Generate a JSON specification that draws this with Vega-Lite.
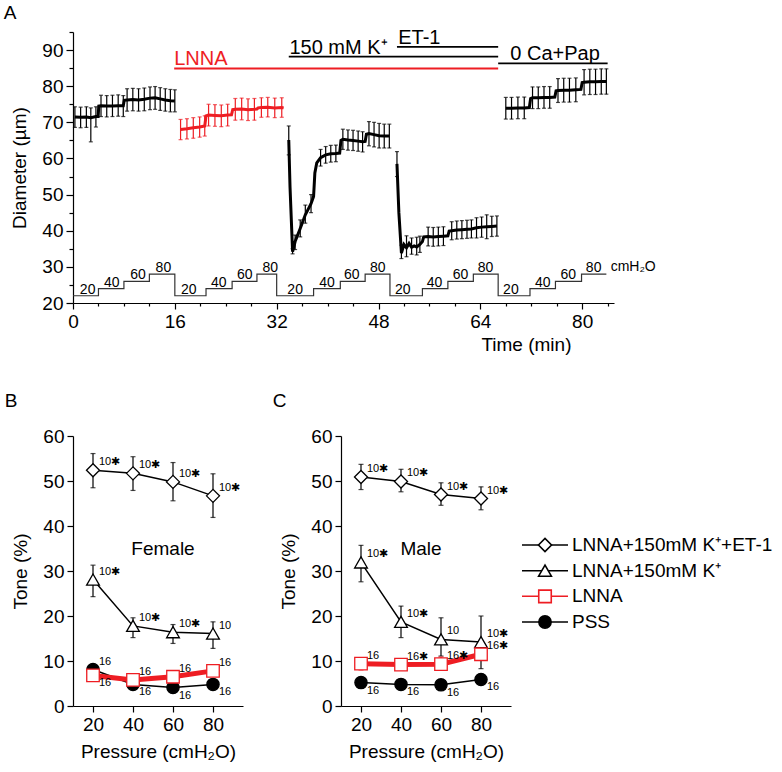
{
  "$schema": "https://vega.github.io/schema/vega-lite/v6.json",
  "padding": {"left": 3, "top": 4, "right": 4, "bottom": 4},
  "config": {
    "font": "Liberation Sans",
    "view": {"stroke": null},
    "axis": {"labelFontSize": 19, "titleFontSize": 19, "titleFontWeight": "normal", "labelColor": "#000", "titleColor": "#000", "domainColor": "#000", "tickColor": "#000", "domainWidth": 1.2, "tickWidth": 1.2, "tickSize": 6, "grid": false, "labelPadding": 3, "labelFlush": false, "labelOverlap": false},
    "axisY": {"titlePadding": 12},
    "axisX": {"titlePadding": 4},
    "title": {"fontSize": 19, "fontWeight": "normal", "anchor": "start", "frame": "bounds", "dx": -7, "color": "#000"},
    "text": {"color": "#000"}
  },
  "datasets": {
    "stairs": [
      {"t": 0, "lvl": 22}, {"t": 4, "lvl": 24}, {"t": 8, "lvl": 26}, {"t": 12, "lvl": 28},
      {"t": 16, "lvl": 22}, {"t": 20.9, "lvl": 24}, {"t": 25, "lvl": 26}, {"t": 28.9, "lvl": 28},
      {"t": 32, "lvl": 22}, {"t": 37.8, "lvl": 24}, {"t": 42, "lvl": 26}, {"t": 45.9, "lvl": 28},
      {"t": 49.8, "lvl": 22}, {"t": 54.9, "lvl": 24}, {"t": 58.9, "lvl": 26}, {"t": 62.9, "lvl": 28},
      {"t": 66.8, "lvl": 22}, {"t": 71.8, "lvl": 24}, {"t": 75.8, "lvl": 26}, {"t": 79.9, "lvl": 28},
      {"t": 83.8, "lvl": 28}
    ],
    "stairLabels": [
      {"t": 2.3, "lvl": 22, "lab": "20"}, {"t": 6.1, "lvl": 24, "lab": "40"}, {"t": 10.2, "lvl": 26, "lab": "60"}, {"t": 14.2, "lvl": 28, "lab": "80"},
      {"t": 18.2, "lvl": 22, "lab": "20"}, {"t": 22.9, "lvl": 24, "lab": "40"}, {"t": 27, "lvl": 26, "lab": "60"}, {"t": 31, "lvl": 28, "lab": "80"},
      {"t": 34.9, "lvl": 22, "lab": "20"}, {"t": 39.9, "lvl": 24, "lab": "40"}, {"t": 43.8, "lvl": 26, "lab": "60"}, {"t": 47.9, "lvl": 28, "lab": "80"},
      {"t": 51.8, "lvl": 22, "lab": "20"}, {"t": 56.8, "lvl": 24, "lab": "40"}, {"t": 60.9, "lvl": 26, "lab": "60"}, {"t": 64.8, "lvl": 28, "lab": "80"},
      {"t": 68.8, "lvl": 22, "lab": "20"}, {"t": 73.8, "lvl": 24, "lab": "40"}, {"t": 77.8, "lvl": 26, "lab": "60"}, {"t": 81.8, "lvl": 28, "lab": "80"}
    ],
    "treatments": [
      {"treat": "LNNA", "t0": 15.9, "t1": 66.8, "y": 84.9, "tl": 15.9, "label": "LNNA"},
      {"treat": "K", "t0": 33.9, "t1": 66.8, "y": 88.2, "tl": 34.0, "label": "150 mM K⁺"},
      {"treat": "ET1", "t0": 50.9, "t1": 66.8, "y": 90.9, "tl": 51.1, "label": "ET-1"},
      {"treat": "CaPap", "t0": 66.8, "t1": 84.0, "y": 86.3, "tl": 68.7, "label": "0 Ca+Pap"}
    ],
    "trace": [
      {"treat": "PSS", "t": 0.3, "d": 71.5, "lo": 68.6, "hi": 74.3},
      {"treat": "PSS", "t": 1.2, "d": 71.4, "lo": 68.5, "hi": 74.2},
      {"treat": "PSS", "t": 2.1, "d": 71.5, "lo": 68.6, "hi": 74.3},
      {"treat": "PSS", "t": 2.8, "d": 71.3, "lo": 64.6, "hi": 74.0},
      {"treat": "PSS", "t": 3.6, "d": 71.6, "lo": 68.7, "hi": 74.3},
      {"treat": "PSS", "t": 3.95, "d": 71.6},
      {"treat": "PSS", "t": 4.05, "d": 74.5},
      {"treat": "PSS", "t": 4.4, "d": 74.6, "lo": 71.6, "hi": 77.5},
      {"treat": "PSS", "t": 5.3, "d": 74.5, "lo": 71.5, "hi": 77.4},
      {"treat": "PSS", "t": 6.2, "d": 74.5, "lo": 71.6, "hi": 77.5},
      {"treat": "PSS", "t": 7.1, "d": 74.6, "lo": 71.7, "hi": 77.6},
      {"treat": "PSS", "t": 7.9, "d": 74.6, "lo": 71.6, "hi": 77.4},
      {"treat": "PSS", "t": 8.05, "d": 76.1},
      {"treat": "PSS", "t": 8.5, "d": 76.2, "lo": 73.1, "hi": 79.3},
      {"treat": "PSS", "t": 9.4, "d": 76.3, "lo": 73.2, "hi": 79.4},
      {"treat": "PSS", "t": 10.3, "d": 76.2, "lo": 73.1, "hi": 79.3},
      {"treat": "PSS", "t": 11.2, "d": 76.4, "lo": 73.2, "hi": 79.5},
      {"treat": "PSS", "t": 12.1, "d": 76.7, "lo": 73.5, "hi": 79.8},
      {"treat": "PSS", "t": 12.9, "d": 76.8, "lo": 73.6, "hi": 79.9},
      {"treat": "PSS", "t": 13.7, "d": 76.5, "lo": 73.3, "hi": 79.6},
      {"treat": "PSS", "t": 14.5, "d": 76.2, "lo": 73.1, "hi": 79.3},
      {"treat": "PSS", "t": 15.3, "d": 76.0, "lo": 72.9, "hi": 79.1},
      {"treat": "PSS", "t": 16.0, "d": 75.9, "lo": 72.9, "hi": 79.0},
      {"treat": "LNNA", "t": 16.9, "d": 68.0, "lo": 65.2, "hi": 70.8},
      {"treat": "LNNA", "t": 17.9, "d": 68.2, "lo": 65.4, "hi": 71.0},
      {"treat": "LNNA", "t": 18.9, "d": 68.5, "lo": 65.6, "hi": 71.3},
      {"treat": "LNNA", "t": 19.9, "d": 68.7, "lo": 65.9, "hi": 71.5},
      {"treat": "LNNA", "t": 20.7, "d": 69.0, "lo": 66.2, "hi": 71.8},
      {"treat": "LNNA", "t": 20.9, "d": 71.8},
      {"treat": "LNNA", "t": 21.3, "d": 72.0, "lo": 69.0, "hi": 75.0},
      {"treat": "LNNA", "t": 22.3, "d": 71.9, "lo": 68.9, "hi": 74.9},
      {"treat": "LNNA", "t": 23.3, "d": 71.8, "lo": 68.8, "hi": 74.8},
      {"treat": "LNNA", "t": 24.3, "d": 72.0, "lo": 69.0, "hi": 75.0},
      {"treat": "LNNA", "t": 24.9, "d": 72.1},
      {"treat": "LNNA", "t": 25.1, "d": 73.5},
      {"treat": "LNNA", "t": 25.5, "d": 73.6, "lo": 70.6, "hi": 76.6},
      {"treat": "LNNA", "t": 26.5, "d": 73.7, "lo": 70.7, "hi": 76.7},
      {"treat": "LNNA", "t": 27.5, "d": 73.5, "lo": 70.5, "hi": 76.5},
      {"treat": "LNNA", "t": 28.5, "d": 73.6, "lo": 70.6, "hi": 76.6},
      {"treat": "LNNA", "t": 28.9, "d": 73.7},
      {"treat": "LNNA", "t": 29.1, "d": 74.0},
      {"treat": "LNNA", "t": 29.6, "d": 74.1, "lo": 71.4, "hi": 76.8},
      {"treat": "LNNA", "t": 30.6, "d": 74.2, "lo": 71.5, "hi": 76.9},
      {"treat": "LNNA", "t": 31.7, "d": 74.0, "lo": 71.3, "hi": 76.7},
      {"treat": "LNNA", "t": 32.8, "d": 74.1, "lo": 71.4, "hi": 76.8},
      {"treat": "LNNA", "t": 33.1, "d": 74.0},
      {"treat": "K", "t": 33.9, "d": 65.1, "lo": 61.0, "hi": 69.0},
      {"treat": "K", "t": 34.1, "d": 52.0},
      {"treat": "K", "t": 34.5, "d": 34.2, "lo": 33.6, "hi": 35.0},
      {"treat": "K", "t": 34.9, "d": 37.0, "lo": 34.8, "hi": 38.8},
      {"treat": "K", "t": 35.7, "d": 40.6, "lo": 38.3, "hi": 43.0},
      {"treat": "K", "t": 36.5, "d": 44.4, "lo": 42.1, "hi": 47.1},
      {"treat": "K", "t": 37.4, "d": 47.5, "lo": 45.0, "hi": 50.0},
      {"treat": "K", "t": 37.8, "d": 49.5},
      {"treat": "K", "t": 38.0, "d": 56.0},
      {"treat": "K", "t": 38.3, "d": 58.8},
      {"treat": "K", "t": 38.9, "d": 60.2, "lo": 57.9, "hi": 62.5},
      {"treat": "K", "t": 39.7, "d": 61.0, "lo": 58.7, "hi": 63.3},
      {"treat": "K", "t": 40.5, "d": 61.3, "lo": 59.0, "hi": 63.6},
      {"treat": "K", "t": 41.3, "d": 61.4, "lo": 59.1, "hi": 63.7},
      {"treat": "K", "t": 41.9, "d": 61.5},
      {"treat": "K", "t": 42.1, "d": 65.0},
      {"treat": "K", "t": 42.4, "d": 65.3, "lo": 62.5, "hi": 68.1},
      {"treat": "K", "t": 43.2, "d": 65.1, "lo": 62.3, "hi": 67.9},
      {"treat": "K", "t": 44.0, "d": 65.0, "lo": 62.2, "hi": 67.8},
      {"treat": "K", "t": 44.8, "d": 64.8, "lo": 62.0, "hi": 67.6},
      {"treat": "K", "t": 45.5, "d": 64.6, "lo": 61.8, "hi": 67.4},
      {"treat": "K", "t": 45.9, "d": 64.7},
      {"treat": "K", "t": 46.1, "d": 66.7},
      {"treat": "K", "t": 46.5, "d": 66.9, "lo": 63.5, "hi": 70.2},
      {"treat": "K", "t": 47.3, "d": 66.6, "lo": 63.2, "hi": 70.0},
      {"treat": "K", "t": 48.1, "d": 66.3, "lo": 62.9, "hi": 69.7},
      {"treat": "K", "t": 48.9, "d": 66.2, "lo": 62.9, "hi": 69.5},
      {"treat": "K", "t": 49.7, "d": 66.2, "lo": 62.9, "hi": 69.5},
      {"treat": "ET1", "t": 50.9, "d": 58.5, "lo": 55.0, "hi": 61.9},
      {"treat": "ET1", "t": 51.2, "d": 45.0},
      {"treat": "ET1", "t": 51.6, "d": 33.8, "lo": 32.3, "hi": 36.0},
      {"treat": "ET1", "t": 52.0, "d": 36.2},
      {"treat": "ET1", "t": 52.4, "d": 35.3, "lo": 32.8, "hi": 38.6},
      {"treat": "ET1", "t": 52.8, "d": 36.5},
      {"treat": "ET1", "t": 53.2, "d": 35.4, "lo": 33.5, "hi": 38.0},
      {"treat": "ET1", "t": 53.6, "d": 35.8},
      {"treat": "ET1", "t": 54.0, "d": 35.5, "lo": 33.3, "hi": 38.2},
      {"treat": "ET1", "t": 54.5, "d": 36.2, "lo": 34.0, "hi": 38.5},
      {"treat": "ET1", "t": 54.9, "d": 37.0},
      {"treat": "ET1", "t": 55.1, "d": 38.3},
      {"treat": "ET1", "t": 55.8, "d": 38.4, "lo": 35.8, "hi": 41.0},
      {"treat": "ET1", "t": 56.6, "d": 38.3, "lo": 35.7, "hi": 40.9},
      {"treat": "ET1", "t": 57.4, "d": 38.4, "lo": 35.8, "hi": 41.0},
      {"treat": "ET1", "t": 58.2, "d": 38.5, "lo": 35.9, "hi": 41.1},
      {"treat": "ET1", "t": 58.9, "d": 38.6},
      {"treat": "ET1", "t": 59.1, "d": 39.9},
      {"treat": "ET1", "t": 59.5, "d": 40.0, "lo": 37.5, "hi": 42.5},
      {"treat": "ET1", "t": 60.3, "d": 40.2, "lo": 37.7, "hi": 42.7},
      {"treat": "ET1", "t": 61.1, "d": 40.3, "lo": 37.8, "hi": 42.8},
      {"treat": "ET1", "t": 61.9, "d": 40.4, "lo": 37.9, "hi": 42.9},
      {"treat": "ET1", "t": 62.6, "d": 40.5, "lo": 38.0, "hi": 43.0},
      {"treat": "ET1", "t": 63.4, "d": 40.8, "lo": 38.0, "hi": 43.6},
      {"treat": "ET1", "t": 64.2, "d": 41.0, "lo": 38.2, "hi": 43.8},
      {"treat": "ET1", "t": 65.0, "d": 41.1, "lo": 37.8, "hi": 44.4},
      {"treat": "ET1", "t": 65.8, "d": 41.2, "lo": 38.4, "hi": 44.0},
      {"treat": "ET1", "t": 66.6, "d": 41.3, "lo": 38.5, "hi": 44.1},
      {"treat": "CaPap", "t": 68.0, "d": 73.9, "lo": 70.9, "hi": 76.9},
      {"treat": "CaPap", "t": 68.9, "d": 73.9, "lo": 70.9, "hi": 76.9},
      {"treat": "CaPap", "t": 69.9, "d": 74.0, "lo": 71.0, "hi": 77.0},
      {"treat": "CaPap", "t": 70.9, "d": 74.0, "lo": 71.0, "hi": 77.0},
      {"treat": "CaPap", "t": 71.7, "d": 74.1},
      {"treat": "CaPap", "t": 71.9, "d": 76.6},
      {"treat": "CaPap", "t": 72.2, "d": 76.8, "lo": 73.8, "hi": 79.8},
      {"treat": "CaPap", "t": 73.1, "d": 76.8, "lo": 73.8, "hi": 79.8},
      {"treat": "CaPap", "t": 74.0, "d": 76.9, "lo": 73.9, "hi": 79.9},
      {"treat": "CaPap", "t": 74.9, "d": 76.9, "lo": 73.9, "hi": 79.9},
      {"treat": "CaPap", "t": 75.7, "d": 77.0},
      {"treat": "CaPap", "t": 75.9, "d": 78.7},
      {"treat": "CaPap", "t": 76.2, "d": 78.8, "lo": 75.5, "hi": 82.1},
      {"treat": "CaPap", "t": 77.1, "d": 78.9, "lo": 75.6, "hi": 82.2},
      {"treat": "CaPap", "t": 78.0, "d": 78.9, "lo": 75.6, "hi": 82.2},
      {"treat": "CaPap", "t": 79.0, "d": 79.0, "lo": 75.7, "hi": 82.3},
      {"treat": "CaPap", "t": 79.8, "d": 79.1},
      {"treat": "CaPap", "t": 80.0, "d": 81.0},
      {"treat": "CaPap", "t": 80.3, "d": 81.1, "lo": 77.6, "hi": 84.6},
      {"treat": "CaPap", "t": 81.2, "d": 81.2, "lo": 77.7, "hi": 84.7},
      {"treat": "CaPap", "t": 82.1, "d": 81.2, "lo": 77.7, "hi": 84.7},
      {"treat": "CaPap", "t": 83.0, "d": 81.3, "lo": 77.8, "hi": 84.8},
      {"treat": "CaPap", "t": 83.8, "d": 81.3, "lo": 77.8, "hi": 84.8}
    ],
    "tone": [
      {"sex": "Female", "series": "ET1", "p": 20, "tone": 52.4, "lo": 48.5, "hi": 56.1, "n": "10✱", "pos": "above"},
      {"sex": "Female", "series": "ET1", "p": 40, "tone": 51.7, "lo": 47.9, "hi": 55.4, "n": "10✱", "pos": "above"},
      {"sex": "Female", "series": "ET1", "p": 60, "tone": 49.8, "lo": 45.6, "hi": 54.1, "n": "10✱", "pos": "above"},
      {"sex": "Female", "series": "ET1", "p": 80, "tone": 46.7, "lo": 41.9, "hi": 51.6, "n": "10✱", "pos": "above"},
      {"sex": "Female", "series": "K", "p": 20, "tone": 28.1, "lo": 24.3, "hi": 31.3, "n": "10✱", "pos": "above"},
      {"sex": "Female", "series": "K", "p": 40, "tone": 17.8, "lo": 15.2, "hi": 19.6, "n": "10✱", "pos": "above"},
      {"sex": "Female", "series": "K", "p": 60, "tone": 16.4, "lo": 13.9, "hi": 18.1, "n": "10✱", "pos": "above"},
      {"sex": "Female", "series": "K", "p": 80, "tone": 16.1, "lo": 12.8, "hi": 18.7, "n": "10", "pos": "above"},
      {"sex": "Female", "series": "PSS", "p": 20, "tone": 8.1, "lo": 7.4, "hi": 8.8, "n": "16", "pos": "above"},
      {"sex": "Female", "series": "PSS", "p": 40, "tone": 4.8, "lo": 4.2, "hi": 5.4, "n": "16", "pos": "below"},
      {"sex": "Female", "series": "PSS", "p": 60, "tone": 4.1, "lo": 3.5, "hi": 4.7, "n": "16", "pos": "below"},
      {"sex": "Female", "series": "PSS", "p": 80, "tone": 4.8, "lo": 4.2, "hi": 5.4, "n": "16", "pos": "below"},
      {"sex": "Female", "series": "LNNA", "p": 20, "tone": 6.8, "lo": 6.0, "hi": 7.6, "n": "16", "pos": "below"},
      {"sex": "Female", "series": "LNNA", "p": 40, "tone": 5.8, "lo": 5.1, "hi": 6.5, "n": "16", "pos": "above"},
      {"sex": "Female", "series": "LNNA", "p": 60, "tone": 6.5, "lo": 5.8, "hi": 7.2, "n": "16", "pos": "above"},
      {"sex": "Female", "series": "LNNA", "p": 80, "tone": 7.8, "lo": 7.0, "hi": 8.6, "n": "16", "pos": "above"},
      {"sex": "Male", "series": "ET1", "p": 20, "tone": 50.9, "lo": 48.1, "hi": 53.7, "n": "10✱", "pos": "above"},
      {"sex": "Male", "series": "ET1", "p": 40, "tone": 49.9, "lo": 47.6, "hi": 52.6, "n": "10✱", "pos": "above"},
      {"sex": "Male", "series": "ET1", "p": 60, "tone": 47.0, "lo": 44.6, "hi": 49.6, "n": "10✱", "pos": "above"},
      {"sex": "Male", "series": "ET1", "p": 80, "tone": 46.1, "lo": 43.6, "hi": 48.7, "n": "10✱", "pos": "above"},
      {"sex": "Male", "series": "K", "p": 20, "tone": 31.9, "lo": 27.6, "hi": 35.7, "n": "10✱", "pos": "above"},
      {"sex": "Male", "series": "K", "p": 40, "tone": 18.7, "lo": 15.2, "hi": 22.2, "n": "10✱", "pos": "above"},
      {"sex": "Male", "series": "K", "p": 60, "tone": 14.8, "lo": 11.1, "hi": 19.6, "n": "10", "pos": "above"},
      {"sex": "Male", "series": "K", "p": 80, "tone": 14.2, "lo": 8.3, "hi": 20.0, "n": "10✱", "pos": "above"},
      {"sex": "Male", "series": "PSS", "p": 20, "tone": 5.2, "lo": 4.6, "hi": 5.8, "n": "16", "pos": "below"},
      {"sex": "Male", "series": "PSS", "p": 40, "tone": 4.8, "lo": 4.2, "hi": 5.4, "n": "16", "pos": "below"},
      {"sex": "Male", "series": "PSS", "p": 60, "tone": 4.7, "lo": 4.1, "hi": 5.3, "n": "16", "pos": "below"},
      {"sex": "Male", "series": "PSS", "p": 80, "tone": 5.9, "lo": 5.2, "hi": 6.6, "n": "16", "pos": "below"},
      {"sex": "Male", "series": "LNNA", "p": 20, "tone": 9.4, "lo": 8.0, "hi": 10.7, "n": "16", "pos": "above"},
      {"sex": "Male", "series": "LNNA", "p": 40, "tone": 9.2, "lo": 8.0, "hi": 10.5, "n": "16✱", "pos": "above"},
      {"sex": "Male", "series": "LNNA", "p": 60, "tone": 9.3, "lo": 8.0, "hi": 10.9, "n": "16✱", "pos": "above"},
      {"sex": "Male", "series": "LNNA", "p": 80, "tone": 11.5, "lo": 10.3, "hi": 12.7, "n": "16✱", "pos": "above"}
    ],
    "legendRows": [
      {"series": "ET1", "label": "LNNA+150mM K⁺+ET-1"},
      {"series": "K", "label": "LNNA+150mM K⁺"},
      {"series": "LNNA", "label": "LNNA"},
      {"series": "PSS", "label": "PSS"}
    ]
  },
  "spacing": 38,
  "vconcat": [
    {
      "width": 541,
      "height": 271,
      "title": {"text": "A", "offset": 0},
      "layer": [
        {
          "data": {"name": "stairs"},
          "mark": {"type": "line", "interpolate": "step-after", "color": "#333", "strokeWidth": 1.2},
          "encoding": {
            "x": {"field": "t", "type": "quantitative", "scale": {"domain": [0, 85], "nice": false, "zero": false}, "axis": {"title": "Time (min)", "titleX": 498, "titleAlign": "right", "labelOverlap": false, "values": [0,4,8,12,16,20,24,28,32,36,40,44,48,52,56,60,64,68,72,76,80,84], "labelExpr": "datum.value % 16 === 0 ? datum.label : ''", "tickSize": {"condition": {"test": "datum.value % 16 === 0", "value": 6}, "value": 3}}},
            "y": {"field": "lvl", "type": "quantitative", "scale": {"domain": [20, 95], "nice": false, "zero": false}, "axis": {"title": "Diameter (µm)", "labelOverlap": false, "values": [20,25,30,35,40,45,50,55,60,65,70,75,80,85,90,95], "labelExpr": "datum.value % 10 === 0 ? datum.label : ''", "tickSize": {"condition": {"test": "datum.value % 10 === 0", "value": 7}, "value": 4}}}
          }
        },
        {
          "data": {"name": "stairLabels"},
          "mark": {"type": "text", "fontSize": 14, "baseline": "alphabetic", "dy": -2, "color": "#000"},
          "encoding": {
            "x": {"field": "t", "type": "quantitative", "axis": {"title": "Time (min)", "titleX": 498, "titleAlign": "right", "labelOverlap": false, "values": [0,4,8,12,16,20,24,28,32,36,40,44,48,52,56,60,64,68,72,76,80,84], "labelExpr": "datum.value % 16 === 0 ? datum.label : ''", "tickSize": {"condition": {"test": "datum.value % 16 === 0", "value": 6}, "value": 3}}},
            "y": {"field": "lvl", "type": "quantitative", "axis": {"title": "Diameter (µm)", "labelOverlap": false, "values": [20,25,30,35,40,45,50,55,60,65,70,75,80,85,90,95], "labelExpr": "datum.value % 10 === 0 ? datum.label : ''", "tickSize": {"condition": {"test": "datum.value % 10 === 0", "value": 7}, "value": 4}}},
            "text": {"field": "lab"}
          }
        },
        {
          "data": {"values": [{"u": "cmH₂O"}]},
          "mark": {"type": "text", "fontSize": 14, "baseline": "alphabetic", "align": "left", "dy": -3, "dx": 3, "color": "#000"},
          "encoding": {
            "x": {"datum": 84.0, "type": "quantitative", "axis": {"title": "Time (min)", "titleX": 498, "titleAlign": "right", "labelOverlap": false, "values": [0,4,8,12,16,20,24,28,32,36,40,44,48,52,56,60,64,68,72,76,80,84], "labelExpr": "datum.value % 16 === 0 ? datum.label : ''", "tickSize": {"condition": {"test": "datum.value % 16 === 0", "value": 6}, "value": 3}}},
            "y": {"datum": 28, "type": "quantitative", "axis": {"title": "Diameter (µm)", "labelOverlap": false, "values": [20,25,30,35,40,45,50,55,60,65,70,75,80,85,90,95], "labelExpr": "datum.value % 10 === 0 ? datum.label : ''", "tickSize": {"condition": {"test": "datum.value % 10 === 0", "value": 7}, "value": 4}}},
            "text": {"field": "u"}
          }
        },
        {
          "data": {"name": "treatments"},
          "mark": {"type": "rule", "strokeWidth": 1.8},
          "encoding": {
            "x": {"field": "t0", "type": "quantitative", "axis": {"title": "Time (min)", "titleX": 498, "titleAlign": "right", "labelOverlap": false, "values": [0,4,8,12,16,20,24,28,32,36,40,44,48,52,56,60,64,68,72,76,80,84], "labelExpr": "datum.value % 16 === 0 ? datum.label : ''", "tickSize": {"condition": {"test": "datum.value % 16 === 0", "value": 6}, "value": 3}}},
            "x2": {"field": "t1"},
            "y": {"field": "y", "type": "quantitative", "axis": {"title": "Diameter (µm)", "labelOverlap": false, "values": [20,25,30,35,40,45,50,55,60,65,70,75,80,85,90,95], "labelExpr": "datum.value % 10 === 0 ? datum.label : ''", "tickSize": {"condition": {"test": "datum.value % 10 === 0", "value": 7}, "value": 4}}},
            "color": {"field": "treat", "type": "nominal", "scale": {"domain": ["ET1","K","LNNA","PSS","CaPap"], "range": ["#000","#000","#ee1d23","#000","#000"]}, "legend": null}
          }
        },
        {
          "data": {"name": "treatments"},
          "mark": {"type": "text", "fontSize": 20, "align": "left", "baseline": "alphabetic", "dy": -3},
          "encoding": {
            "x": {"field": "tl", "type": "quantitative", "axis": {"title": "Time (min)", "titleX": 498, "titleAlign": "right", "labelOverlap": false, "values": [0,4,8,12,16,20,24,28,32,36,40,44,48,52,56,60,64,68,72,76,80,84], "labelExpr": "datum.value % 16 === 0 ? datum.label : ''", "tickSize": {"condition": {"test": "datum.value % 16 === 0", "value": 6}, "value": 3}}},
            "y": {"field": "y", "type": "quantitative", "axis": {"title": "Diameter (µm)", "labelOverlap": false, "values": [20,25,30,35,40,45,50,55,60,65,70,75,80,85,90,95], "labelExpr": "datum.value % 10 === 0 ? datum.label : ''", "tickSize": {"condition": {"test": "datum.value % 10 === 0", "value": 7}, "value": 4}}},
            "text": {"field": "label"},
            "color": {"field": "treat", "type": "nominal", "scale": {"domain": ["ET1","K","LNNA","PSS","CaPap"], "range": ["#000","#000","#ee1d23","#000","#000"]}, "legend": null}
          }
        },
        {
          "data": {"name": "trace"},
          "transform": [{"filter": "isValid(datum.lo)"}],
          "mark": {"type": "rule", "strokeWidth": 1.2},
          "encoding": {
            "x": {"field": "t", "type": "quantitative", "axis": {"title": "Time (min)", "titleX": 498, "titleAlign": "right", "labelOverlap": false, "values": [0,4,8,12,16,20,24,28,32,36,40,44,48,52,56,60,64,68,72,76,80,84], "labelExpr": "datum.value % 16 === 0 ? datum.label : ''", "tickSize": {"condition": {"test": "datum.value % 16 === 0", "value": 6}, "value": 3}}},
            "y": {"field": "lo", "type": "quantitative", "axis": {"title": "Diameter (µm)", "labelOverlap": false, "values": [20,25,30,35,40,45,50,55,60,65,70,75,80,85,90,95], "labelExpr": "datum.value % 10 === 0 ? datum.label : ''", "tickSize": {"condition": {"test": "datum.value % 10 === 0", "value": 7}, "value": 4}}},
            "y2": {"field": "hi"},
            "color": {"field": "treat", "type": "nominal", "scale": {"domain": ["ET1","K","LNNA","PSS","CaPap"], "range": ["#000","#000","#ee1d23","#000","#000"]}, "legend": null}
          }
        },
        {
          "data": {"name": "trace"},
          "transform": [{"filter": "isValid(datum.lo)"}],
          "mark": {"type": "tick", "orient": "horizontal", "size": 4, "thickness": 1.2},
          "encoding": {
            "x": {"field": "t", "type": "quantitative", "axis": {"title": "Time (min)", "titleX": 498, "titleAlign": "right", "labelOverlap": false, "values": [0,4,8,12,16,20,24,28,32,36,40,44,48,52,56,60,64,68,72,76,80,84], "labelExpr": "datum.value % 16 === 0 ? datum.label : ''", "tickSize": {"condition": {"test": "datum.value % 16 === 0", "value": 6}, "value": 3}}},
            "y": {"field": "lo", "type": "quantitative", "axis": {"title": "Diameter (µm)", "labelOverlap": false, "values": [20,25,30,35,40,45,50,55,60,65,70,75,80,85,90,95], "labelExpr": "datum.value % 10 === 0 ? datum.label : ''", "tickSize": {"condition": {"test": "datum.value % 10 === 0", "value": 7}, "value": 4}}},
            "color": {"field": "treat", "type": "nominal", "scale": {"domain": ["ET1","K","LNNA","PSS","CaPap"], "range": ["#000","#000","#ee1d23","#000","#000"]}, "legend": null}
          }
        },
        {
          "data": {"name": "trace"},
          "transform": [{"filter": "isValid(datum.lo)"}],
          "mark": {"type": "tick", "orient": "horizontal", "size": 4, "thickness": 1.2},
          "encoding": {
            "x": {"field": "t", "type": "quantitative", "axis": {"title": "Time (min)", "titleX": 498, "titleAlign": "right", "labelOverlap": false, "values": [0,4,8,12,16,20,24,28,32,36,40,44,48,52,56,60,64,68,72,76,80,84], "labelExpr": "datum.value % 16 === 0 ? datum.label : ''", "tickSize": {"condition": {"test": "datum.value % 16 === 0", "value": 6}, "value": 3}}},
            "y": {"field": "hi", "type": "quantitative", "axis": {"title": "Diameter (µm)", "labelOverlap": false, "values": [20,25,30,35,40,45,50,55,60,65,70,75,80,85,90,95], "labelExpr": "datum.value % 10 === 0 ? datum.label : ''", "tickSize": {"condition": {"test": "datum.value % 10 === 0", "value": 7}, "value": 4}}},
            "color": {"field": "treat", "type": "nominal", "scale": {"domain": ["ET1","K","LNNA","PSS","CaPap"], "range": ["#000","#000","#ee1d23","#000","#000"]}, "legend": null}
          }
        },
        {
          "data": {"name": "trace"},
          "mark": {"type": "line", "strokeWidth": 3},
          "encoding": {
            "x": {"field": "t", "type": "quantitative", "axis": {"title": "Time (min)", "titleX": 498, "titleAlign": "right", "labelOverlap": false, "values": [0,4,8,12,16,20,24,28,32,36,40,44,48,52,56,60,64,68,72,76,80,84], "labelExpr": "datum.value % 16 === 0 ? datum.label : ''", "tickSize": {"condition": {"test": "datum.value % 16 === 0", "value": 6}, "value": 3}}},
            "y": {"field": "d", "type": "quantitative", "axis": {"title": "Diameter (µm)", "labelOverlap": false, "values": [20,25,30,35,40,45,50,55,60,65,70,75,80,85,90,95], "labelExpr": "datum.value % 10 === 0 ? datum.label : ''", "tickSize": {"condition": {"test": "datum.value % 10 === 0", "value": 7}, "value": 4}}},
            "color": {"field": "treat", "type": "nominal", "scale": {"domain": ["ET1","K","LNNA","PSS","CaPap"], "range": ["#000","#000","#ee1d23","#000","#000"]}, "legend": null}
          }
        }
      ]
    },
    {
      "spacing": 29,
      "hconcat": [
        {
          "width": 170,
          "height": 270,
          "title": {"text": "B", "offset": 16},
          "data": {"name": "tone"},
          "transform": [{"filter": "datum.sex === 'Female'"}],
          "layer": [
            {
              "transform": [{"filter": "datum.series !== 'LNNA'"}],
              "mark": {"type": "line", "strokeWidth": 1.5},
              "encoding": {
                "x": {"field": "p", "type": "quantitative", "scale": {"domain": [10, 95], "nice": false, "zero": false}, "axis": {"title": "Pressure (cmH₂O)", "values": [20, 40, 60, 80], "titlePadding": 8, "labelOverlap": false}},
                "y": {"field": "tone", "type": "quantitative", "scale": {"domain": [0, 60], "nice": false}, "axis": {"title": "Tone (%)", "labelOverlap": false, "values": [0,5,10,15,20,25,30,35,40,45,50,55,60], "labelExpr": "datum.value % 10 === 0 ? datum.label : ''", "tickSize": {"condition": {"test": "datum.value % 10 === 0", "value": 6}, "value": 3}}},
                "color": {"field": "series", "type": "nominal", "scale": {"domain": ["ET1","K","LNNA","PSS","CaPap"], "range": ["#000","#000","#ee1d23","#000","#000"]}, "legend": null}
              }
            },
            {
              "transform": [{"filter": "datum.series === 'LNNA'"}],
              "mark": {"type": "line", "strokeWidth": 5},
              "encoding": {
                "x": {"field": "p", "type": "quantitative"},
                "y": {"field": "tone", "type": "quantitative"},
                "color": {"field": "series", "type": "nominal", "scale": {"domain": ["ET1","K","LNNA","PSS","CaPap"], "range": ["#000","#000","#ee1d23","#000","#000"]}, "legend": null}
              }
            },
            {
              "mark": {"type": "rule", "strokeWidth": 1.2},
              "encoding": {
                "x": {"field": "p", "type": "quantitative"},
                "y": {"field": "lo", "type": "quantitative"},
                "y2": {"field": "hi"},
                "color": {"field": "series", "type": "nominal", "scale": {"domain": ["ET1","K","LNNA","PSS","CaPap"], "range": ["#000","#000","#ee1d23","#000","#000"]}, "legend": null}
              }
            },
            {
              "mark": {"type": "tick", "orient": "horizontal", "size": 5, "thickness": 1.2},
              "encoding": {
                "x": {"field": "p", "type": "quantitative"},
                "y": {"field": "lo", "type": "quantitative"},
                "color": {"field": "series", "type": "nominal", "scale": {"domain": ["ET1","K","LNNA","PSS","CaPap"], "range": ["#000","#000","#ee1d23","#000","#000"]}, "legend": null}
              }
            },
            {
              "mark": {"type": "tick", "orient": "horizontal", "size": 5, "thickness": 1.2},
              "encoding": {
                "x": {"field": "p", "type": "quantitative"},
                "y": {"field": "hi", "type": "quantitative"},
                "color": {"field": "series", "type": "nominal", "scale": {"domain": ["ET1","K","LNNA","PSS","CaPap"], "range": ["#000","#000","#ee1d23","#000","#000"]}, "legend": null}
              }
            },
            {
              "mark": {"type": "point", "filled": true, "opacity": 1, "strokeWidth": 1.3},
              "encoding": {
                "x": {"field": "p", "type": "quantitative"},
                "y": {"field": "tone", "type": "quantitative"},
                "shape": {"field": "series", "type": "nominal", "scale": {"domain": ["ET1","K","LNNA","PSS"], "range": ["diamond","triangle-up","square","circle"]}, "legend": null},
                "fill": {"field": "series", "type": "nominal", "scale": {"domain": ["ET1","K","LNNA","PSS"], "range": ["#fff","#fff","#fff","#000"]}, "legend": null},
                "stroke": {"field": "series", "type": "nominal", "scale": {"domain": ["ET1","K","LNNA","PSS"], "range": ["#000","#000","#ee1d23","#000"]}, "legend": null},
                "size": {"field": "series", "type": "ordinal", "scale": {"domain": ["ET1","K","LNNA","PSS"], "range": [170,150,70,120]}, "legend": null}
              }
            },
            {
              "transform": [{"filter": "datum.pos === 'above'"}],
              "mark": {"type": "text", "align": "left", "baseline": "middle", "dx": 6, "dy": -8, "fontSize": 11, "fill": "#000"},
              "encoding": {
                "x": {"field": "p", "type": "quantitative"},
                "y": {"field": "tone", "type": "quantitative"},
                "text": {"field": "n"}
              }
            },
            {
              "transform": [{"filter": "datum.pos === 'below'"}],
              "mark": {"type": "text", "align": "left", "baseline": "middle", "dx": 6, "dy": 8, "fontSize": 11, "fill": "#000"},
              "encoding": {
                "x": {"field": "p", "type": "quantitative"},
                "y": {"field": "tone", "type": "quantitative"},
                "text": {"field": "n"}
              }
            },
            {
              "data": {"values": [{"lab": "Female"}]},
              "mark": {"type": "text", "fontSize": 19, "color": "#000"},
              "encoding": {
                "x": {"datum": 55, "type": "quantitative"},
                "y": {"datum": 35, "type": "quantitative"},
                "text": {"field": "lab"}
              }
            }
          ]
        },
        {
          "spacing": 10,
          "hconcat": [
            {
              "width": 170,
              "height": 270,
              "title": {"text": "C", "offset": 16},
              "data": {"name": "tone"},
              "transform": [{"filter": "datum.sex === 'Male'"}],
              "layer": [
                {
                  "transform": [{"filter": "datum.series !== 'LNNA'"}],
                  "mark": {"type": "line", "strokeWidth": 1.5},
                  "encoding": {
                    "x": {"field": "p", "type": "quantitative", "scale": {"domain": [10, 95], "nice": false, "zero": false}, "axis": {"title": "Pressure (cmH₂O)", "values": [20, 40, 60, 80], "titlePadding": 8, "labelOverlap": false}},
                    "y": {"field": "tone", "type": "quantitative", "scale": {"domain": [0, 60], "nice": false}, "axis": {"title": "Tone (%)", "labelOverlap": false, "values": [0,5,10,15,20,25,30,35,40,45,50,55,60], "labelExpr": "datum.value % 10 === 0 ? datum.label : ''", "tickSize": {"condition": {"test": "datum.value % 10 === 0", "value": 6}, "value": 3}}},
                    "color": {"field": "series", "type": "nominal", "scale": {"domain": ["ET1","K","LNNA","PSS","CaPap"], "range": ["#000","#000","#ee1d23","#000","#000"]}, "legend": null}
                  }
                },
                {
                  "transform": [{"filter": "datum.series === 'LNNA'"}],
                  "mark": {"type": "line", "strokeWidth": 5},
                  "encoding": {
                    "x": {"field": "p", "type": "quantitative"},
                    "y": {"field": "tone", "type": "quantitative"},
                    "color": {"field": "series", "type": "nominal", "scale": {"domain": ["ET1","K","LNNA","PSS","CaPap"], "range": ["#000","#000","#ee1d23","#000","#000"]}, "legend": null}
                  }
                },
                {
                  "mark": {"type": "rule", "strokeWidth": 1.2},
                  "encoding": {
                    "x": {"field": "p", "type": "quantitative"},
                    "y": {"field": "lo", "type": "quantitative"},
                    "y2": {"field": "hi"},
                    "color": {"field": "series", "type": "nominal", "scale": {"domain": ["ET1","K","LNNA","PSS","CaPap"], "range": ["#000","#000","#ee1d23","#000","#000"]}, "legend": null}
                  }
                },
                {
                  "mark": {"type": "tick", "orient": "horizontal", "size": 5, "thickness": 1.2},
                  "encoding": {
                    "x": {"field": "p", "type": "quantitative"},
                    "y": {"field": "lo", "type": "quantitative"},
                    "color": {"field": "series", "type": "nominal", "scale": {"domain": ["ET1","K","LNNA","PSS","CaPap"], "range": ["#000","#000","#ee1d23","#000","#000"]}, "legend": null}
                  }
                },
                {
                  "mark": {"type": "tick", "orient": "horizontal", "size": 5, "thickness": 1.2},
                  "encoding": {
                    "x": {"field": "p", "type": "quantitative"},
                    "y": {"field": "hi", "type": "quantitative"},
                    "color": {"field": "series", "type": "nominal", "scale": {"domain": ["ET1","K","LNNA","PSS","CaPap"], "range": ["#000","#000","#ee1d23","#000","#000"]}, "legend": null}
                  }
                },
                {
                  "mark": {"type": "point", "filled": true, "opacity": 1, "strokeWidth": 1.3},
                  "encoding": {
                    "x": {"field": "p", "type": "quantitative"},
                    "y": {"field": "tone", "type": "quantitative"},
                    "shape": {"field": "series", "type": "nominal", "scale": {"domain": ["ET1","K","LNNA","PSS"], "range": ["diamond","triangle-up","square","circle"]}, "legend": null},
                    "fill": {"field": "series", "type": "nominal", "scale": {"domain": ["ET1","K","LNNA","PSS"], "range": ["#fff","#fff","#fff","#000"]}, "legend": null},
                    "stroke": {"field": "series", "type": "nominal", "scale": {"domain": ["ET1","K","LNNA","PSS"], "range": ["#000","#000","#ee1d23","#000"]}, "legend": null},
                    "size": {"field": "series", "type": "ordinal", "scale": {"domain": ["ET1","K","LNNA","PSS"], "range": [170,150,70,120]}, "legend": null}
                  }
                },
                {
                  "transform": [{"filter": "datum.pos === 'above'"}],
                  "mark": {"type": "text", "align": "left", "baseline": "middle", "dx": 6, "dy": -8, "fontSize": 11, "fill": "#000"},
                  "encoding": {
                    "x": {"field": "p", "type": "quantitative"},
                    "y": {"field": "tone", "type": "quantitative"},
                    "text": {"field": "n"}
                  }
                },
                {
                  "transform": [{"filter": "datum.pos === 'below'"}],
                  "mark": {"type": "text", "align": "left", "baseline": "middle", "dx": 6, "dy": 8, "fontSize": 11, "fill": "#000"},
                  "encoding": {
                    "x": {"field": "p", "type": "quantitative"},
                    "y": {"field": "tone", "type": "quantitative"},
                    "text": {"field": "n"}
                  }
                },
                {
                  "data": {"values": [{"lab": "Male"}]},
                  "mark": {"type": "text", "fontSize": 19, "color": "#000"},
                  "encoding": {
                    "x": {"datum": 50, "type": "quantitative"},
                    "y": {"datum": 35, "type": "quantitative"},
                    "text": {"field": "lab"}
                  }
                }
              ]
            },
            {
              "width": 46,
              "height": 270,
              "data": {"name": "legendRows"},
              "layer": [
                {
                  "mark": {"type": "rule"},
                  "encoding": {
                    "x": {"datum": 0, "type": "quantitative", "scale": {"domain": [0, 1], "nice": false}, "axis": null},
                    "x2": {"datum": 1},
                    "y": {"field": "series", "type": "nominal", "scale": {"type": "point", "domain": ["ET1","K","LNNA","PSS"], "range": [109, 186], "padding": 0}, "axis": null},
                    "color": {"field": "series", "type": "nominal", "scale": {"domain": ["ET1","K","LNNA","PSS","CaPap"], "range": ["#000","#000","#ee1d23","#000","#000"]}, "legend": null},
                    "strokeWidth": {"field": "series", "type": "ordinal", "scale": {"domain": ["ET1","K","LNNA","PSS"], "range": [1.5,1.5,4.5,1.5]}, "legend": null}
                  }
                },
                {
                  "mark": {"type": "point", "filled": true, "opacity": 1, "strokeWidth": 1.6},
                  "encoding": {
                    "x": {"datum": 0.5, "type": "quantitative", "axis": null},
                    "y": {"field": "series", "type": "nominal", "axis": null},
                    "shape": {"field": "series", "type": "nominal", "scale": {"domain": ["ET1","K","LNNA","PSS"], "range": ["diamond","triangle-up","square","circle"]}, "legend": null},
                    "fill": {"field": "series", "type": "nominal", "scale": {"domain": ["ET1","K","LNNA","PSS"], "range": ["#fff","#fff","#fff","#000"]}, "legend": null},
                    "stroke": {"field": "series", "type": "nominal", "scale": {"domain": ["ET1","K","LNNA","PSS"], "range": ["#000","#000","#ee1d23","#000"]}, "legend": null},
                    "size": {"field": "series", "type": "ordinal", "scale": {"domain": ["ET1","K","LNNA","PSS"], "range": [170,150,70,120]}, "legend": null}
                  }
                },
                {
                  "mark": {"type": "text", "align": "left", "baseline": "middle", "dx": 4, "fontSize": 19, "color": "#000"},
                  "encoding": {
                    "x": {"datum": 1, "type": "quantitative", "axis": null},
                    "y": {"field": "series", "type": "nominal", "axis": null},
                    "text": {"field": "label"}
                  }
                }
              ]
            }
          ]
        }
      ]
    }
  ]
}
